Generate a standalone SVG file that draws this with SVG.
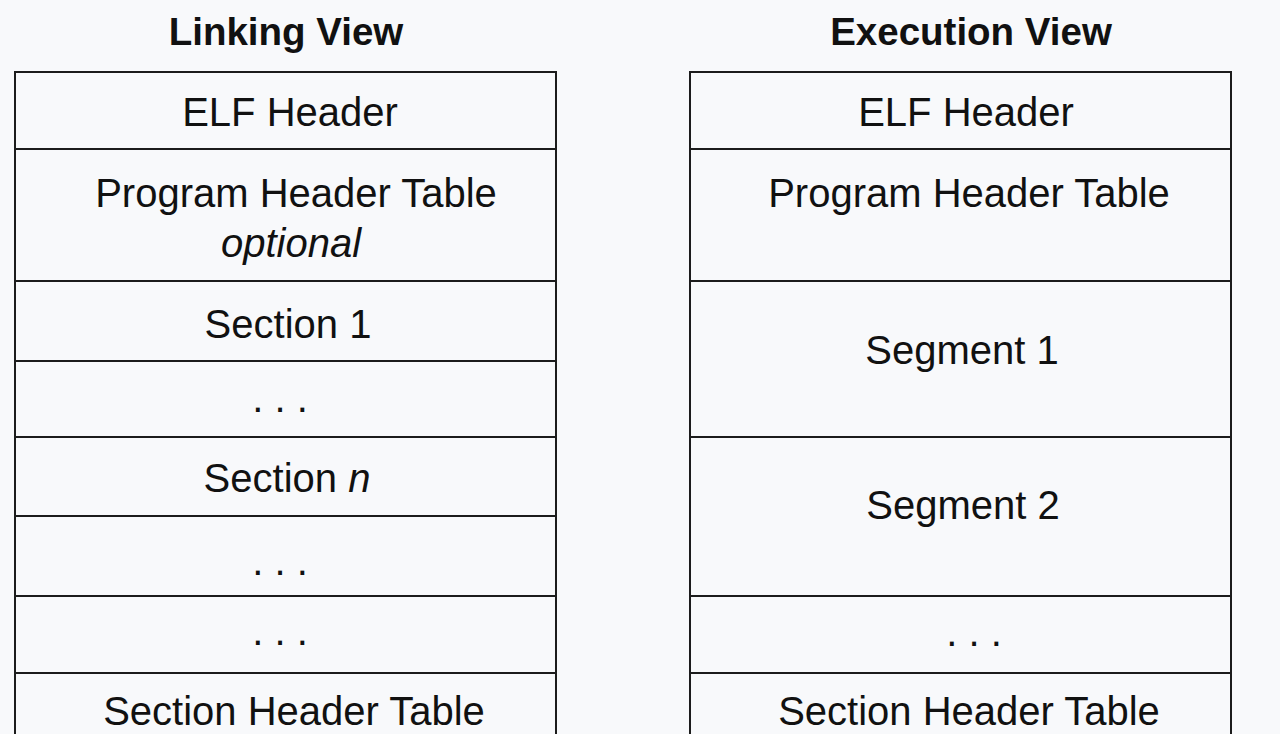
<svg xmlns="http://www.w3.org/2000/svg" width="1280" height="734" viewBox="0 0 1280 734">
<style>
.bg{fill:#f8f9fb}
.cell{fill:none;stroke:#1c1c1c;stroke-width:2}
.t{font-family:"Liberation Sans",Arial,sans-serif;font-size:40px;fill:#111;text-anchor:middle}
.h{font-family:"Liberation Sans",Arial,sans-serif;font-size:38.5px;font-weight:bold;fill:#111;text-anchor:middle}
.i{font-style:italic}
</style>
<rect class="bg" x="0" y="0" width="1280" height="734"/>
<g id="linking-view">
<text class="h" x="286" y="45">Linking View</text>
<g id="l-elf"><rect class="cell" x="15" y="72" width="541" height="77"/><text class="t" x="290" y="126">ELF Header</text></g>
<g id="l-pht"><rect class="cell" x="15" y="149" width="541" height="132"/><text class="t" x="296" y="207">Program Header Table</text><text class="t i" x="291" y="257">optional</text></g>
<g id="l-sec1"><rect class="cell" x="15" y="281" width="541" height="80"/><text class="t" x="288" y="338">Section 1</text></g>
<g id="l-dots1"><rect class="cell" x="15" y="361" width="541" height="76"/><text class="t" x="280" y="412">. . .</text></g>
<g id="l-secn"><rect class="cell" x="15" y="437" width="541" height="79"/><text class="t" x="287" y="492">Section <tspan class="i">n</tspan></text></g>
<g id="l-dots2"><rect class="cell" x="15" y="516" width="541" height="80"/><text class="t" x="280" y="575">. . .</text></g>
<g id="l-dots3"><rect class="cell" x="15" y="596" width="541" height="77"/><text class="t" x="280" y="645">. . .</text></g>
<g id="l-sht"><rect class="cell" x="15" y="673" width="541" height="80"/><text class="t" x="294" y="725">Section Header Table</text></g>
</g>
<g id="execution-view">
<text class="h" x="971" y="45">Execution View</text>
<g id="r-elf"><rect class="cell" x="690" y="72" width="541" height="77"/><text class="t" x="966" y="126">ELF Header</text></g>
<g id="r-pht"><rect class="cell" x="690" y="149" width="541" height="132"/><text class="t" x="969" y="207">Program Header Table</text></g>
<g id="r-seg1"><rect class="cell" x="690" y="281" width="541" height="156"/><text class="t" x="962" y="364">Segment 1</text></g>
<g id="r-seg2"><rect class="cell" x="690" y="437" width="541" height="159"/><text class="t" x="963" y="519">Segment 2</text></g>
<g id="r-dots"><rect class="cell" x="690" y="596" width="541" height="77"/><text class="t" x="974" y="646">. . .</text></g>
<g id="r-sht"><rect class="cell" x="690" y="673" width="541" height="80"/><text class="t" x="969" y="725">Section Header Table</text></g>
</g>
<g id="connectors"/>
</svg>
